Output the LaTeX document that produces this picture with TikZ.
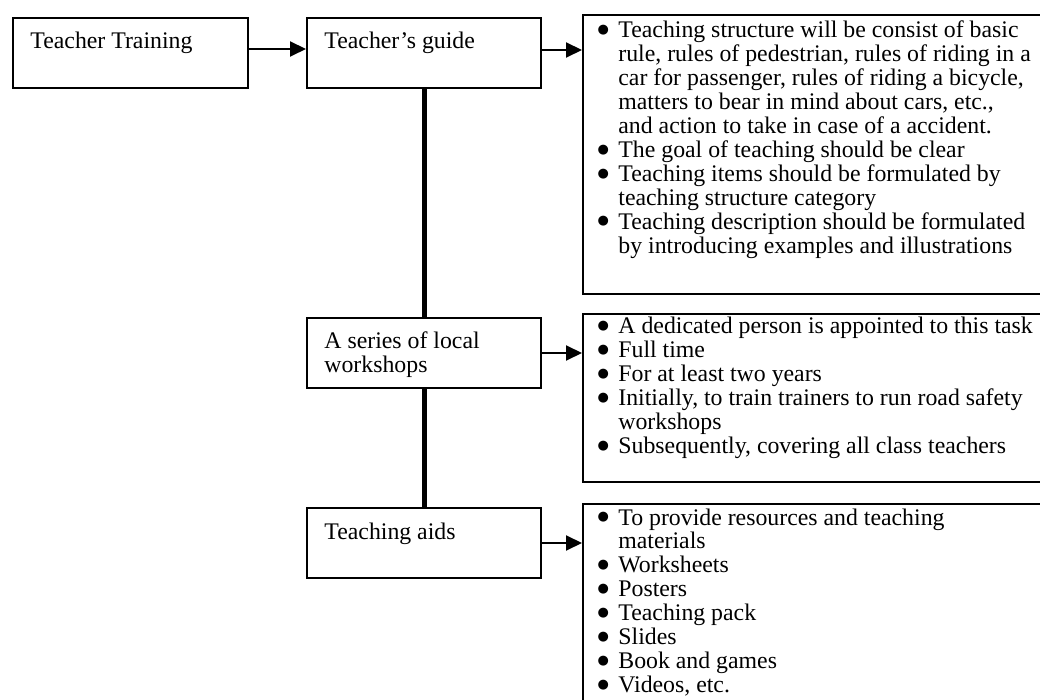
\documentclass[tikz,border=0pt]{standalone}
\usepackage{fontspec}
\setmainfont{Liberation Serif}
\newfontfamily\dejavu{DejaVu Sans}
\usetikzlibrary{arrows.meta,calc}
\newdimen\px \px=0.5pt
\newcommand\bdot{\hspace*{-1.9pt}\raisebox{2.1pt}{\dejavu\fontsize{6.5}{0}\selectfont ●}}
\newcommand\bitem[1]{\par\noindent\makebox[17\px][l]{\bdot}#1}
\newcommand\citem[1]{\par\noindent\hspace*{17\px}#1}
\begin{document}
\begin{tikzpicture}[x=0.5pt,y=-0.5pt,
  box/.style={draw, line width=1pt, anchor=north west, inner sep=0pt},
  lbl/.style={anchor=base west, inner sep=0pt, font=\fontsize{11.9}{11.95}\selectfont},
  arr/.style={line width=1pt, -{Triangle[length=8pt,width=7.5pt]}},
  spine/.style={line width=2.5pt}]
\useasboundingbox (0,0) rectangle (1040,700);
\clip (0,0) rectangle (1040,700);
\fill[white] (0,0) rectangle (1040,700);
% left boxes
\node[box, minimum width=235\px, minimum height=70\px] (tt) at (12,17) {};
\node[box, minimum width=234\px, minimum height=70\px] (tg) at (306,17) {};
\node[box, minimum width=234\px, minimum height=70\px] (ws) at (306,317) {};
\node[box, minimum width=234\px, minimum height=70\px] (ta) at (306,507) {};
% right boxes
\node[box, minimum width=480\px, minimum height=279\px] (r1) at (582,14) {};
\node[box, minimum width=480\px, minimum height=168\px] (r2) at (582,313) {};
\node[box, minimum width=480\px, minimum height=220\px] (r3) at (582,503) {};
% labels
\node[lbl] (ttl) at (30,49) {Teacher Training};
\node[lbl] (tgl) at (324,49) {Teacher’s guide};
\node[lbl] (wsl) at (324,349) {\parbox[t]{200\px}{A series of local\\workshops}};
\node[lbl] (tal) at (324,539) {Teaching aids};
\node[lbl] (r1t) at (601,38) {\parbox[t]{600\px}{%
\bitem{Teaching structure will be consist of basic}
\citem{rule, rules of pedestrian, rules of riding in a}
\citem{car for passenger, rules of riding a bicycle,}
\citem{matters to bear in mind about cars, etc.,}
\citem{and action to take in case of a accident.}
\bitem{The goal of teaching should be clear}
\bitem{Teaching items should be formulated by}
\citem{teaching structure category}
\bitem{Teaching description should be formulated}
\citem{by introducing examples and illustrations}}};
\node[lbl] (r2t) at (601,334) {\parbox[t]{600\px}{%
\bitem{A dedicated person is appointed to this task}
\bitem{Full time}
\bitem{For at least two years}
\bitem{Initially, to train trainers to run road safety}
\citem{workshops}
\bitem{Subsequently, covering all class teachers}}};
\node[lbl] (r3t) at (601,525) {\parbox[t]{600\px}{%
\bitem{To provide resources and teaching}
\citem{materials}
\bitem{Worksheets}
\bitem{Posters}
\bitem{Teaching pack}
\bitem{Slides}
\bitem{Book and games}
\bitem{Videos, etc.}}};
% connectors
\coordinate (a0) at ($(tt.north east)+(0,32)$);
\coordinate (a1) at ($(tg.north east)+(0,33)$);
\draw[arr] (a0) -- (a0 -| tg.west);
\draw[arr] (a1) -- (a1 -| r1.west);
\draw[arr] (ws.east) -- (ws.east -| r2.west);
\draw[arr] (ta.east) -- (ta.east -| r3.west);
\draw[spine] (tg.south) -- (ws.north);
\draw[spine] (ws.south) -- (ta.north);
\end{tikzpicture}
\end{document}
